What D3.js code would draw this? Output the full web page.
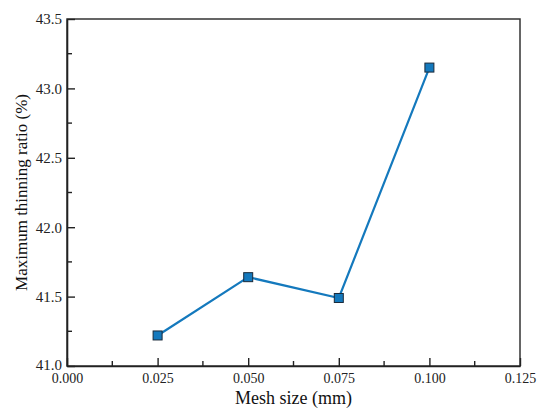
<!DOCTYPE html>
<html><head><meta charset="utf-8">
<script src="https://cdn.jsdelivr.net/npm/d3@7"></script>
<style>body{margin:0;background:#fff}svg{display:block}
svg text{font-family:'Liberation Serif','Times New Roman',serif}</style>
</head><body>
<svg id="c" width="550" height="419"></svg>
<script>
const meshSize = [0.025, 0.050, 0.075, 0.100];
const thinning = [41.22, 41.64, 41.49, 43.15];
const xTicks = [0, 0.025, 0.05, 0.075, 0.1, 0.125];
const yTicks = [41.0, 41.5, 42.0, 42.5, 43.0, 43.5];
const xMinor = [0.0125, 0.0375, 0.0625, 0.0875, 0.1125];
const yMinor = [41.25, 41.75, 42.25, 42.75, 43.25];

const svg = d3.select("#c");
const L = 67, R = 520, T = 19, B = 366;
const x = d3.scaleLinear().domain([0, 0.125]).range([L, R]);
const y = d3.scaleLinear().domain([41, 43.5]).range([B, T]);
const font = "'Liberation Serif', 'Times New Roman', serif";
const axisColor = "#222";

// frame
svg.append("rect").attr("x", L).attr("y", T).attr("width", R - L).attr("height", B - T)
  .attr("fill", "none").attr("stroke", "#333").attr("stroke-width", 1.5);

// x axis
const xa = svg.append("g").attr("transform", `translate(0,${B})`)
  .call(d3.axisBottom(x).tickValues(xTicks).tickFormat(d3.format(".3f")).tickSizeInner(-8).tickSizeOuter(0).tickPadding(7));
xa.attr("font-family", null);
xa.select(".domain").attr("stroke", axisColor).attr("stroke-width", 1.6);
xa.selectAll(".tick line").attr("stroke", axisColor).attr("stroke-width", 1.4);
xa.selectAll(".tick text").style("font-family", font).style("font-size", "14px").attr("fill", "#222");
svg.append("g").selectAll("line").data(xMinor).join("line")
  .attr("x1", d => x(d)).attr("x2", d => x(d)).attr("y1", B).attr("y2", B - 5)
  .attr("stroke", axisColor).attr("stroke-width", 1.4);

// y axis
const ya = svg.append("g").attr("transform", `translate(${L},0)`)
  .call(d3.axisLeft(y).tickValues(yTicks).tickFormat(d3.format(".1f")).tickSizeInner(-8).tickSizeOuter(0).tickPadding(5));
ya.attr("font-family", null);
ya.select(".domain").attr("stroke", axisColor).attr("stroke-width", 1.6);
ya.selectAll(".tick line").attr("stroke", axisColor).attr("stroke-width", 1.4);
ya.selectAll(".tick text").style("font-family", font).style("font-size", "15px").attr("fill", "#222")
  .attr("dy", d => d === 41 ? "0.2em" : "0.32em");
svg.append("g").selectAll("line").data(yMinor).join("line")
  .attr("x1", L).attr("x2", L + 5).attr("y1", d => y(d)).attr("y2", d => y(d))
  .attr("stroke", axisColor).attr("stroke-width", 1.4);

// titles
svg.append("text").attr("x", (L + R) / 2).attr("y", 404).attr("text-anchor", "middle")
  .style("font-family", font).style("font-size", "18px").attr("fill", "#111").text("Mesh size (mm)");
svg.append("text").attr("transform", `translate(27,${(T + B) / 2}) rotate(-90)`).attr("text-anchor", "middle")
  .style("font-family", font).style("font-size", "17px").attr("fill", "#111").text("Maximum thinning ratio (%)");

// line
const pts = meshSize.map((m, i) => [m, thinning[i]]);
svg.append("path").datum(pts)
  .attr("d", d3.line().x(d => x(d[0])).y(d => y(d[1])))
  .attr("fill", "none").attr("stroke", "#1479bd").attr("stroke-width", 2.2);
svg.append("g").selectAll("rect").data(pts).join("rect")
  .attr("x", d => x(d[0]) - 4.5).attr("y", d => y(d[1]) - 4.5).attr("width", 9).attr("height", 9)
  .attr("fill", "#1479bd").attr("stroke", "#1a2a3a").attr("stroke-width", 1);
</script>
</body></html>
